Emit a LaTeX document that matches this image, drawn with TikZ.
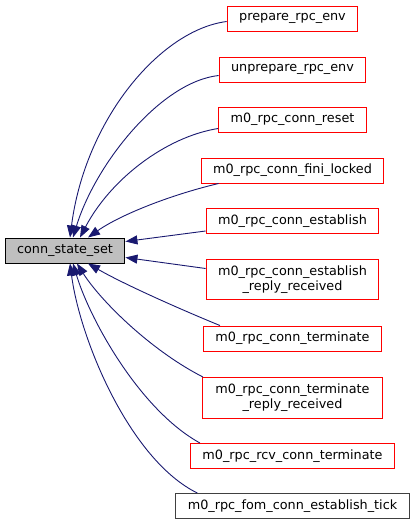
\documentclass[tikz,border=0pt]{standalone}
\usepackage{fontspec}
\setmainfont{DejaVu Sans}
\usetikzlibrary{arrows.meta}
\definecolor{edgeblue}{HTML}{191970}
\definecolor{fomgray}{HTML}{404040}
\definecolor{boxred}{HTML}{FF0000}

\begin{document}
\begin{tikzpicture}[
    x=1pt, y=-1pt,
    every node/.style={font=\fontsize{12.8}{15}\selectfont, align=center},
    fnbox/.style={rectangle, draw=boxred, line width=1pt, inner xsep=12pt, inner ysep=4pt, minimum height=25pt, fill=white},
    tallbox/.style={fnbox, minimum height=40pt},
    callee/.style={fnbox, draw=black, fill=black!25},
    line/.style={draw=edgeblue, line width=0.9pt, -{Triangle[length=12pt, width=9pt]}}
]
    \useasboundingbox (0,0) rectangle (417,525);

    % Callee
    \node[callee] (state) at (65,250.5) {conn\_state\_set};

    % Callers
    \node[fnbox] (prepare) at (292.5,18.5) {prepare\_rpc\_env};
    \node[fnbox] (unprepare) at (292.5,69.5) {unprepare\_rpc\_env};
    \node[fnbox] (reset) at (292.5,119.5) {m0\_rpc\_conn\_reset};
    \node[fnbox] (fini) at (292.5,170.5) {m0\_rpc\_conn\_fini\_locked};
    \node[fnbox] (establish) at (292.5,221) {m0\_rpc\_conn\_establish};
    \node[tallbox] (estreply) at (292.5,279.5) {m0\_rpc\_conn\_establish\\\_reply\_received};
    \node[fnbox] (terminate) at (292.5,338.5) {m0\_rpc\_conn\_terminate};
    \node[tallbox, draw=none] (termreply) at (292.5,397.5) {m0\_rpc\_conn\_terminate\\\_reply\_received};
    \draw[boxred, line width=1pt] (termreply.north west) rectangle (termreply.south east);
    \node[fnbox] (rcvterm) at (292.5,456) {m0\_rpc\_rcv\_conn\_terminate};
    \node[fnbox, draw=fomgray] (fomtick) at (292.5,506) {m0\_rpc\_fom\_conn\_establish\_tick};

    % Connections
    \path[line] ([yshift=-3pt]prepare.west) .. controls (160,30) and (85,120) .. ([xshift=5pt]state.north);
    \path[line] ([yshift=-6pt]unprepare.west) .. controls (160,82) and (95,165) .. ([xshift=8pt]state.north);
    \path[line] ([yshift=-9pt]reset.west) .. controls (165,137) and (110,180) .. ([xshift=15pt]state.north);
    \path[line] ([xshift=18pt]fini.south west) .. controls (170,195) and (120,215) .. ([xshift=23pt]state.north);
    \path[line] ([yshift=-10pt]establish.west) -- ([yshift=9pt]state.east);
    \path[line] ([yshift=11pt]estreply.west) -- ([yshift=-7pt]state.east);
    \path[line] ([xshift=17pt]terminate.north west) .. controls (170,305) and (120,282) .. ([xshift=23pt]state.south);
    \path[line] (termreply.north west) .. controls (150,350) and (100,300) .. ([xshift=12pt]state.south);
    \path[line] ([xshift=10pt]rcvterm.north west) .. controls (140,410) and (90,320) .. ([xshift=8pt]state.south);
    \path[line] ([xshift=22pt]fomtick.north west) .. controls (130,460) and (80,340) .. ([xshift=5pt]state.south);
\end{tikzpicture}
\end{document}
